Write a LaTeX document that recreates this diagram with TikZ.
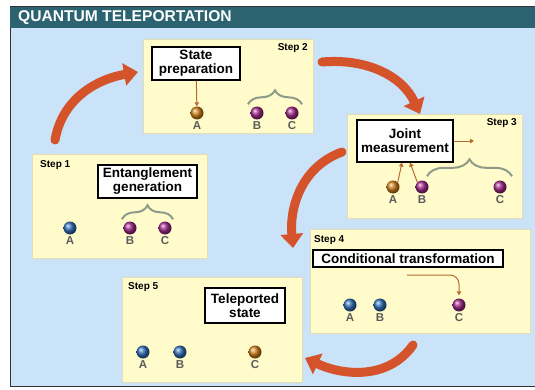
\documentclass[tikz,border=0pt]{standalone}
\usepackage{fontspec}
\setmainfont{Liberation Sans}
\usetikzlibrary{positioning, arrows.meta, decorations.pathreplacing}
\definecolor{skyback}{HTML}{CAE3F9}
\definecolor{headteal}{HTML}{2B6470}
\definecolor{paneyellow}{HTML}{FFFBCB}
\definecolor{paneedge}{HTML}{E2DDB4}
\definecolor{bigorange}{HTML}{D5532B}
\definecolor{hintbrown}{HTML}{B8692E}
\definecolor{bracegray}{HTML}{8E9B88}
\definecolor{qgray}{HTML}{5B5B5B}
\definecolor{qblue}{HTML}{2F6FB8}
\definecolor{qpurple}{HTML}{A0288A}
\definecolor{qorange}{HTML}{D0801A}
\tikzstyle{panel} = [rectangle, anchor=north west, fill=paneyellow, draw=paneedge, inner sep=0pt]
\tikzstyle{steplabel} = [font=\fontsize{10}{12}\selectfont\bfseries, inner sep=0pt]
\tikzstyle{tag} = [rectangle, draw=black, line width=1.2pt, fill=white, align=center,
font=\fontsize{13.5}{14}\selectfont\bfseries, inner sep=1pt]
\tikzstyle{qubit} = [circle, minimum size=13pt, inner sep=0pt, shading=ball]
\tikzstyle{blueq} = [qubit, ball color=qblue]
\tikzstyle{purpleq} = [qubit, ball color=qpurple]
\tikzstyle{orangeq} = [qubit, ball color=qorange]
\tikzstyle{qname} = [font=\fontsize{11.5}{12}\selectfont\bfseries, text=qgray, inner sep=0pt]
\tikzstyle{pair} = [decorate, decoration={brace, amplitude=14pt}, draw=bracegray, line width=2pt]
\tikzstyle{hint} = [draw=hintbrown, line width=1pt, -{Triangle[length=4pt,width=4.5pt]}]
\tikzstyle{bigarrow} = [draw=bigorange, line width=9pt, line cap=round, -{Triangle[length=14pt,width=22pt]}]
\begin{document}
\begin{tikzpicture}[x=1pt, y=1pt]
        \useasboundingbox (0,0) rectangle (535,389);
        \fill [white] (0,0) rectangle (535,389);
        \draw [fill=skyback, draw=black!80, line width=1pt] (10,3) rectangle (535,382);
        \fill [headteal] (10,361) rectangle (535,382);
        \node (title) [anchor=west, text=white, font=\fontsize{15.6}{16}\selectfont\bfseries, inner sep=0pt] at (18,371) {QUANTUM TELEPORTATION};

        \node (p1) [panel, minimum width=175pt, minimum height=104pt] at (32,235) {};
        \node (p2) [panel, minimum width=170pt, minimum height=94pt] at (143,350) {};
        \node (p3) [panel, minimum width=175pt, minimum height=104pt] at (347,275) {};
        \node (p4) [panel, minimum width=220pt, minimum height=104pt] at (310,160) {};
        \node (p5) [panel, minimum width=180pt, minimum height=105pt] at (122,112) {};

        \node (s1) [steplabel, anchor=west] at (40,224) {Step 1};
        \node (s2) [steplabel, anchor=east] at (308,341) {Step 2};
        \node (s3) [steplabel, anchor=east] at (517,266) {Step 3};
        \node (s4) [steplabel, anchor=west] at (314,149) {Step 4};
        \node (s5) [steplabel, anchor=west] at (128,102) {Step 5};

        \node (eg) [tag, minimum width=99pt, minimum height=33pt] at (147.5,207.5) {Entanglement\\generation};
        \node (sp) [tag, minimum width=88pt, minimum height=33pt] at (196,325.5) {State\\preparation};
        \node (jm) [tag, minimum width=96pt, minimum height=42pt] at (405,248) {Joint\\measurement};
        \node (ct) [tag, minimum width=190pt, minimum height=17pt] at (408,130.5) {Conditional transformation};
        \node (ts) [tag, minimum width=80pt, minimum height=35pt] at (245,83.5) {Teleported\\state};

        \node (a1) [blueq] at (70,161) {};
        \node (b1) [purpleq] at (130,161) {};
        \node (c1) [purpleq] at (165,161) {};
        \node (a2) [orangeq] at (197,276) {};
        \node (b2) [purpleq] at (257,276) {};
        \node (c2) [purpleq] at (292,276) {};
        \node (a3) [orangeq] at (393,202) {};
        \node (b3) [purpleq] at (422,202) {};
        \node (c3) [purpleq] at (500,202) {};
        \node (a4) [blueq] at (350,84) {};
        \node (b4) [blueq] at (380,84) {};
        \node (c4) [purpleq] at (459,84) {};
        \node (a5) [blueq] at (143,37) {};
        \node (b5) [blueq] at (180,37) {};
        \node (c5) [orangeq] at (255,37) {};

        \foreach \q/\t in {a1/A,b1/B,c1/C,a2/A,b2/B,c2/C,a3/A,b3/B,c3/C,a4/A,b4/B,c4/C,a5/A,b5/B,c5/C} {
            \node (n\q) [qname, below=2pt of \q] {\t};
        }

        \draw [pair] ([xshift=-8pt,yshift=2pt]b1.north) -- ([xshift=8pt,yshift=2pt]c1.north);
        \draw [pair] ([xshift=-9pt,yshift=2pt]b2.north) -- ([xshift=10pt,yshift=2pt]c2.north);
        \draw [pair, decoration={amplitude=17pt}] ([xshift=5pt,yshift=4pt]b3.north) -- ([xshift=12pt,yshift=4pt]c3.north);

        \coordinate (jmout) at (474,248);
        \coordinate (ctout) at (407,114);
        \draw [hint] (sp) -- (a2);
        \draw [hint] (a3.north east) -- ([xshift=-3pt]jm.south);
        \draw [hint] (b3.north west) -- ([xshift=5pt]jm.south);
        \draw [hint] (jm) -- (jmout);
        \draw [hint, rounded corners=9pt, shorten >=3pt] (ctout) -| (c4);

        \coordinate (g1from) at (55,249);
        \coordinate (g1to) at (138,317);
        \coordinate (g2from) at (322,327);
        \coordinate (g2to) at (420,275);
        \coordinate (g3from) at (342,237);
        \coordinate (g3to) at (293,141);
        \coordinate (g4from) at (413,44);
        \coordinate (g4to) at (305,31);
        \draw [bigarrow] (g1from) to[out=80, in=190] (g1to);
        \draw [bigarrow] (g2from) to[out=5, in=115] (g2to);
        \draw [bigarrow] (g3from) to[out=200, in=95] (g3to);
        \draw [bigarrow] (g4from) to[out=235, in=-25] (g4to);
    \end{tikzpicture}
\end{document}
